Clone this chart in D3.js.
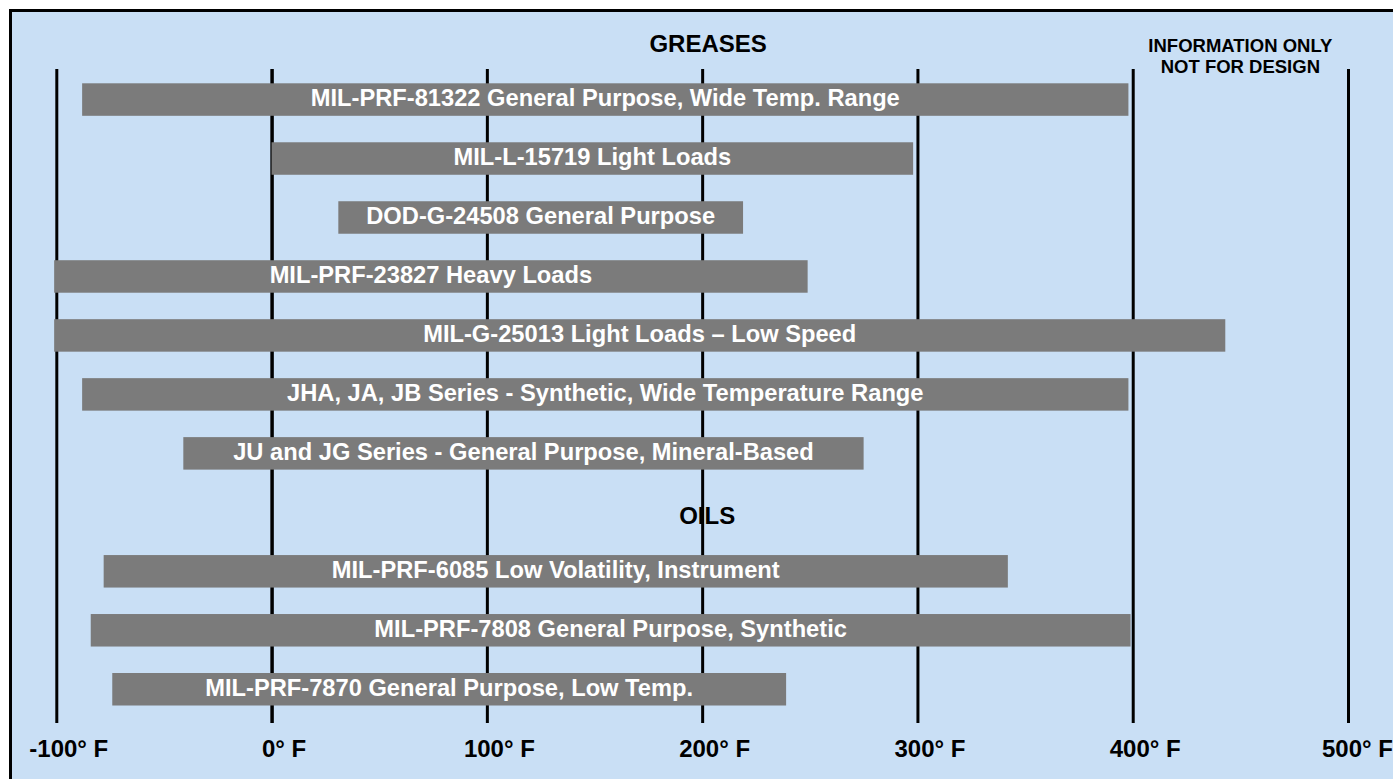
<!DOCTYPE html>
<html>
<head>
<meta charset="utf-8">
<script src="https://cdn.jsdelivr.net/npm/d3@7"></script>
<style>
  body { margin: 0; background: #fff; }
  svg { display: block; font-family: "Liberation Sans", Arial, Helvetica, sans-serif; font-weight: bold; }
</style>
</head>
<body>
<svg id="chart" width="1393" height="779"></svg>
<script>
// temperature ranges (deg F)
const greaseNames = [
  'MIL-PRF-81322 General Purpose, Wide Temp. Range',
  'MIL-L-15719 Light Loads',
  'DOD-G-24508 General Purpose',
  'MIL-PRF-23827 Heavy Loads',
  'MIL-G-25013 Light Loads \u2013 Low Speed',
  'JHA, JA, JB Series - Synthetic, Wide Temperature Range',
  'JU and JG Series - General Purpose, Mineral-Based'
];
const greaseLow  = [-88, 0, 31, -101, -101, -88, -41];
const greaseHigh = [398, 298, 219, 249, 443, 398, 275];

const oilNames = [
  'MIL-PRF-6085 Low Volatility, Instrument',
  'MIL-PRF-7808 General Purpose, Synthetic',
  'MIL-PRF-7870 General Purpose, Low Temp.'
];
const oilLow  = [-78, -84, -74];
const oilHigh = [342, 399, 239];

const tempTicks = [-100, 0, 100, 200, 300, 400, 500];

const svg = d3.select('#chart');
const W = 1393, H = 779;
const barH = 32.5;
const gridTop = 69, gridBottom = 723;

const x = d3.scaleLinear().domain([-100, 500]).range([56.3, 1348]);
// 11 rows: 7 greases, the OILS heading, 3 oils
const rowY = d3.scaleLinear().domain([0, 10]).range([83.3, 673]);

const rows = greaseNames.map((n, i) => ({ name: n, lo: greaseLow[i], hi: greaseHigh[i], row: i }))
  .concat(oilNames.map((n, i) => ({ name: n, lo: oilLow[i], hi: oilHigh[i], row: greaseNames.length + 1 + i })));

// frame
svg.append('rect')
  .attr('x', 10.5).attr('y', 10.5)
  .attr('width', W + 20).attr('height', H + 20)
  .attr('fill', '#c9dff5')
  .attr('stroke', '#000')
  .attr('stroke-width', 3);

// grid lines + temperature labels
const axis = svg.append('g')
  .attr('transform', `translate(0,${gridBottom})`)
  .call(d3.axisBottom(x)
    .tickValues(tempTicks)
    .tickSize(-(gridBottom - gridTop))
    .tickFormat(d => `${d}\u00b0 F`));

axis.select('.domain').remove();
axis.selectAll('.tick line')
  .attr('stroke', '#000')
  .attr('stroke-width', d => d === 0 ? 3.5 : 3);
axis.selectAll('.tick text')
  .attr('y', 34)
  .attr('dy', 0)
  .attr('dx', d => d === 500 ? 9 : 12)
  .attr('fill', '#000')
  .attr('font-size', '24px')
  .attr('font-family', null)
  .attr('font-weight', 'bold');

// bars
svg.append('g').selectAll('rect')
  .data(rows)
  .join('rect')
  .attr('x', d => x(d.lo))
  .attr('y', d => rowY(d.row))
  .attr('width', d => x(d.hi) - x(d.lo))
  .attr('height', barH)
  .attr('fill', '#7b7b7b');

svg.append('g').selectAll('text')
  .data(rows)
  .join('text')
  .attr('x', d => (x(d.lo) + x(d.hi)) / 2)
  .attr('y', d => rowY(d.row) + barH / 2 + 6.5)
  .attr('text-anchor', 'middle')
  .attr('fill', '#fff')
  .attr('font-size', '23.7px')
  .text(d => d.name);

// headings
svg.append('text')
  .attr('x', x(200) + 6).attr('y', 52)
  .attr('text-anchor', 'middle')
  .attr('font-size', '24px')
  .text('GREASES');

svg.append('text')
  .attr('x', x(200) + 5).attr('y', rowY(greaseNames.length) + barH / 2 + 12)
  .attr('text-anchor', 'middle')
  .attr('font-size', '24px')
  .text('OILS');

const note = svg.append('text')
  .attr('x', x(450))
  .attr('text-anchor', 'middle')
  .attr('font-size', '18.5px');
note.append('tspan').attr('x', x(450)).attr('y', 52).text('INFORMATION ONLY');
note.append('tspan').attr('x', x(450)).attr('y', 73).text('NOT FOR DESIGN');
</script>
</body>
</html>
